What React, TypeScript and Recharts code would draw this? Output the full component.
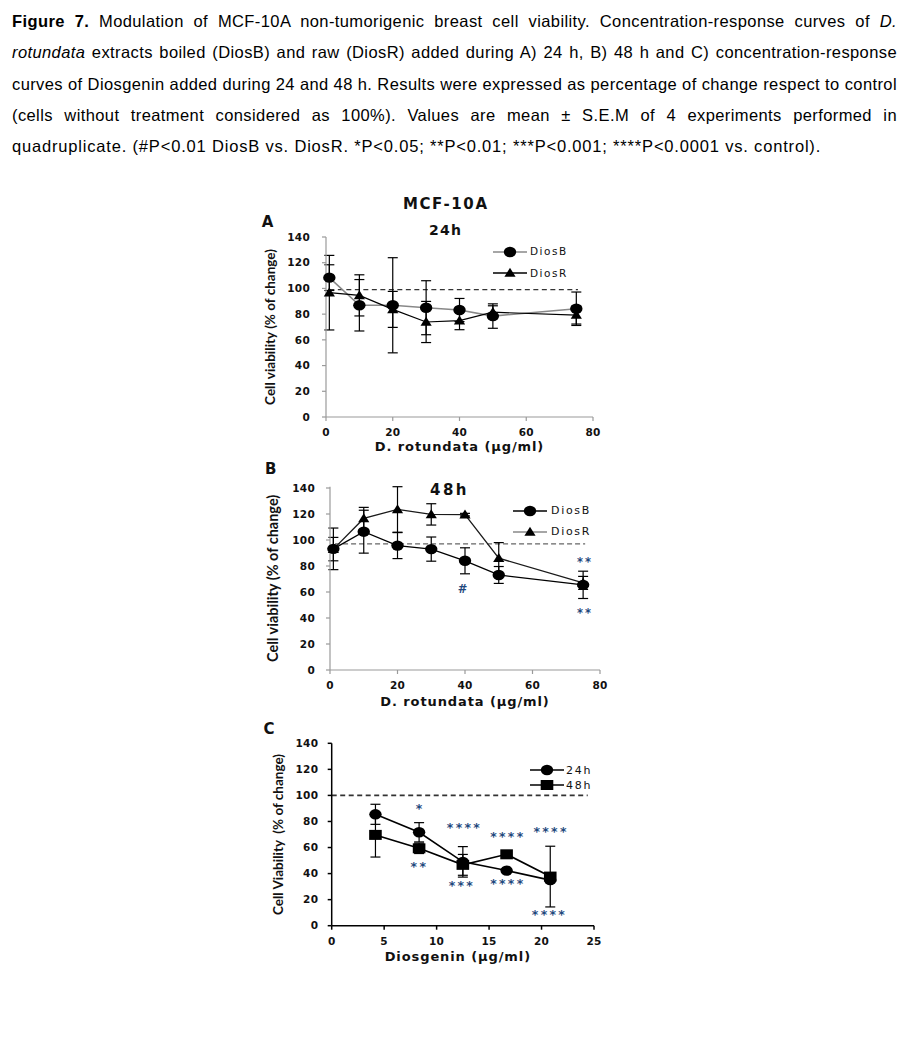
import React from 'react';
import { ComposedChart, Line, Scatter, XAxis, YAxis, ErrorBar, ReferenceLine, Legend } from 'recharts';

// D. rotundata concentrations (µg/ml)
const rotundataDoses = [1, 10, 20, 30, 40, 50, 75];

// A) 24 h, % of control
const diosB24 = [108.4, 86.9, 86.9, 85, 83.2, 78.5, 84.2];
const diosB24Sem = [10, 20, 37, 21, 9, 9.5, 13];
const diosR24 = [96.7, 94.6, 83.7, 73.9, 74.9, 81.5, 79.3];
const diosR24Sem = [29, 16, 14, 16, 7, 5, 7];

// B) 48 h
const diosB48 = [93.2, 106.4, 95.7, 93, 84, 73.1, 65.5];
const diosB48Sem = [16, 16.5, 10, 9.3, 10, 6.5, 10.5];
const diosR48 = [93, 116.6, 123.5, 119.7, 119.5, 86, 67];
const diosR48Sem = [9, 8.5, 17.5, 8.2, 1, 12, 5];

// C) diosgenin (µg/ml)
const diosgeninDoses = [4.17, 8.33, 12.5, 16.67, 20.83];
const diosgenin24 = [85.5, 71.7, 49, 42.3, 35];
const diosgenin24Sem = [7.7, 7.4, 11.7, 1.5, 2];
const diosgenin48 = [69.7, 59.4, 46.7, 54.8, 37.7];
const diosgenin48Sem = [17, 4, 8, 1.5, 23.3];

// dashed control line, as drawn in A, B, C
const controlLevels = [99, 97, 100];

// significance marks
const marksBX = [39.3, 75.3, 75.3];
const marksBY = [62.4, 85.3, 46.4];
const marksBText = ['#', '**', '**'];
const marksCX = [8.33, 12.55, 16.68, 20.8, 8.25, 12.3, 16.68, 20.65];
const marksCY = [92.1, 77.3, 70.4, 74.7, 47.4, 33.3, 34.6, 10.7];
const marksCText = ['*', '****', '****', '****', '**', '***', '****', '****'];

const rotundataTicks = [0, 20, 40, 60, 80];
const diosgeninTicks = [0, 5, 10, 15, 20, 25];
const viabilityTicks = [0, 20, 40, 60, 80, 100, 120, 140];

const FONT = '"DejaVu Sans", "Open Sans", sans-serif';
const LABEL_FONT = 'Lato, "Open Sans", sans-serif';
const INK = '#111';
const MARK_INK = '#1f497d';

const rowsA = rotundataDoses.map((x, i) => ({ x, b: diosB24[i], bSem: diosB24Sem[i], r: diosR24[i], rSem: diosR24Sem[i] }));
const rowsB = rotundataDoses.map((x, i) => ({ x, b: diosB48[i], bSem: diosB48Sem[i], r: diosR48[i], rSem: diosR48Sem[i] }));
const rowsC = diosgeninDoses.map((x, i) => ({
  x, h24: diosgenin24[i], h24Sem: diosgenin24Sem[i], h48: diosgenin48[i], h48Sem: diosgenin48Sem[i],
}));
const marksB = marksBX.map((x, i) => ({ x, y: marksBY[i], text: marksBText[i] }));
const marksC = marksCX.map((x, i) => ({ x, y: marksCY[i], text: marksCText[i] }));

function Marker({ shape, cx, cy }: { shape: string; cx: number; cy: number }) {
  if (shape === 'triangle')
    return <polygon points={`${cx},${cy - 5.2} ${cx + 5.6},${cy + 3.8} ${cx - 5.6},${cy + 3.8}`} fill="#000" />;
  if (shape === 'square') return <rect x={cx - 6.3} y={cy - 5} width={12.6} height={10} fill="#000" />;
  return <ellipse cx={cx} cy={cy} rx={6.2} ry={5.2} fill="#000" />;
}

const dotFor = (shape: string) => (p: any) => (
  <g key={`${shape}-${p.index}`}>
    <Marker shape={shape} cx={p.cx} cy={p.cy} />
  </g>
);

const markShape = (fs: number, ls: number) => (p: any) => {
  const t = p.payload.text;
  const base = p.cy + (t === '#' ? 0.36 : 0.6) * fs;
  return (
    <text x={p.cx + ls / 2} y={base} textAnchor="middle" fontFamily={FONT} fontWeight={700}
      fontSize={fs} letterSpacing={ls} fill={MARK_INK}>
      {t}
    </text>
  );
};

type Series = { key: string; semKey: string; name: string; stroke: string; width: number; shape: string; legendStroke: string };

function LegendRows({ items, gap, fontSize, spacing, textGap }: any) {
  return (
    <div style={{ fontFamily: FONT, fontSize, letterSpacing: spacing, color: INK }}>
      {items.map((it: Series) => (
        <div key={it.name} style={{ display: 'flex', alignItems: 'center', height: gap, whiteSpace: 'nowrap' }}>
          <svg width={34} height={12} style={{ display: 'block', marginRight: textGap }}>
            <line x1={0} y1={6} x2={34} y2={6} stroke={it.legendStroke} strokeWidth={1.5} />
            <Marker shape={it.shape} cx={17} cy={6} />
          </svg>
          <span style={{ lineHeight: 1 }}>{it.name}</span>
        </div>
      ))}
    </div>
  );
}

function ViabilityPanel(props: any) {
  const {
    left, top, width, height, margin, xAxisHeight, xDomain, xTicks, xLabel, xLabelDx = 0,
    yLabel, yLabelSize, yLabelOffset, yTickMargin, xTickMargin, axisColor, axisWidth,
    rows, series, control, marks, markSize, markSpacing, legend,
  } = props;
  const tickStyle = { fill: INK, fontSize: 10.5, fontFamily: FONT, fontWeight: 700, letterSpacing: 0.3 };
  return (
    <div style={{ position: 'absolute', left, top, width, height }}>
      <ComposedChart width={width} height={height} data={rows} margin={margin}>
        <XAxis
          type="number" dataKey="x" domain={xDomain} ticks={xTicks} interval={0} height={xAxisHeight}
          tickSize={4} tickMargin={xTickMargin}
          axisLine={{ stroke: axisColor, strokeWidth: axisWidth }}
          tickLine={{ stroke: axisColor, strokeWidth: axisWidth }}
          tick={tickStyle}
          label={{
            value: xLabel, position: 'insideBottom', offset: 0, dx: xLabelDx,
            style: { fontFamily: FONT, fontWeight: 700, fontSize: 13, letterSpacing: 0.9, fill: INK },
          }}
        />
        <YAxis
          type="number" domain={[0, 140]} ticks={viabilityTicks} interval={0} width={56}
          tickSize={4} tickMargin={yTickMargin}
          axisLine={{ stroke: axisColor, strokeWidth: axisWidth }}
          tickLine={{ stroke: axisColor, strokeWidth: axisWidth }}
          tick={tickStyle}
          label={{
            value: yLabel, angle: -90, position: 'insideLeft', offset: yLabelOffset,
            style: { textAnchor: 'middle', fontFamily: LABEL_FONT, fontWeight: 700, fontSize: yLabelSize, fill: INK },
          }}
        />
        <ReferenceLine
          segment={[{ x: control.x1, y: control.y }, { x: control.x2, y: control.y }]}
          stroke={control.stroke} strokeWidth={control.width} strokeDasharray={control.dash}
        />
        {series.map((s: Series) => (
          <Line
            key={s.key} type="linear" dataKey={s.key} name={s.name} stroke={s.stroke} strokeWidth={s.width}
            dot={dotFor(s.shape)} activeDot={false} isAnimationActive={false}
          >
            <ErrorBar dataKey={s.semKey} width={5} stroke="#000" strokeWidth={1.2} direction="y" />
          </Line>
        ))}
        {marks && (
          <Scatter data={marks} dataKey="y" shape={markShape(markSize, markSpacing)} isAnimationActive={false} />
        )}
        <Legend
          layout="horizontal" verticalAlign="middle" align="center"
          wrapperStyle={{ left: legend.left, top: legend.top, width: 130 }}
          content={() => (
            <LegendRows items={series} gap={legend.gap} fontSize={legend.fontSize}
              spacing={legend.spacing} textGap={legend.textGap} />
          )}
        />
      </ComposedChart>
    </div>
  );
}

const captionLine: React.CSSProperties = {
  height: 31.25, lineHeight: '31.25px', whiteSpace: 'nowrap', textAlign: 'justify', textAlignLast: 'justify',
};

export default function App() {
  return (
    <div style={{ position: 'absolute', left: 0, top: 0, width: 913, height: 1050, background: '#fff', overflow: 'hidden' }}>
      <div style={{
        position: 'absolute', left: 12, top: 6, width: 885, fontFamily: '"Liberation Sans", Arial, sans-serif',
        fontSize: 16.5, letterSpacing: 0.4, color: '#000',
      }}>
        <div style={captionLine}>
          <b>Figure 7.</b> Modulation of MCF-10A non-tumorigenic breast cell viability. Concentration-response curves of <i>D.</i>
        </div>
        <div style={captionLine}>
          <i>rotundata</i> extracts boiled (DiosB) and raw (DiosR) added during A) 24 h, B) 48 h and C) concentration-response
        </div>
        <div style={captionLine}>
          curves of Diosgenin added during 24 and 48 h. Results were expressed as percentage of change respect to control
        </div>
        <div style={captionLine}>
          (cells without treatment considered as 100%). Values are mean ± S.E.M of 4 experiments performed in
        </div>
        <div style={{ ...captionLine, textAlign: 'left', textAlignLast: 'left', letterSpacing: 0.82 }}>
          quadruplicate. (#P&lt;0.01 DiosB vs. DiosR. *P&lt;0.05; **P&lt;0.01; ***P&lt;0.001; ****P&lt;0.0001 vs. control).
        </div>
      </div>

      <svg width={913} height={1050} style={{ position: 'absolute', left: 0, top: 0 }}>
        <g fontFamily={FONT} fontWeight={700} fill={INK} textAnchor="middle">
          <text x={445.8} y={208.8} fontSize={15} letterSpacing={1.6}>MCF-10A</text>
          <text x={267.5} y={227.2} fontSize={15}>A</text>
          <text x={445.6} y={234.8} fontSize={14} letterSpacing={1.2}>24h</text>
          <text x={270.8} y={473.8} fontSize={15}>B</text>
          <text x={449.5} y={494.8} fontSize={15} letterSpacing={2.5}>48h</text>
          <text x={269} y={734.1} fontSize={15}>C</text>
        </g>
      </svg>

      <ViabilityPanel
        left={250} top={225} width={360} height={235}
        margin={{ top: 12, right: 17, bottom: 9, left: 20 }} xAxisHeight={34}
        xDomain={[0, 80]} xTicks={rotundataTicks} xLabel="D. rotundata (µg/ml)"
        yLabel="Cell viability (% of change)" yLabelSize={13.5} yLabelOffset={0}
        yTickMargin={12} xTickMargin={8} axisColor="#9a9a9a" axisWidth={1.2}
        rows={rowsA}
        series={[
          { key: 'b', semKey: 'bSem', name: 'DiosB', stroke: '#888', width: 1.6, shape: 'circle', legendStroke: '#888' },
          { key: 'r', semKey: 'rSem', name: 'DiosR', stroke: '#000', width: 1.2, shape: 'triangle', legendStroke: '#000' },
        ]}
        control={{ x1: 1, x2: 75.5, y: controlLevels[0], stroke: '#000', width: 1, dash: '5 3.5' }}
        legend={{ left: 243, top: 15.9, gap: 21.6, fontSize: 10.5, spacing: 1.5, textGap: 3 }}
      />

      <ViabilityPanel
        left={250} top={475} width={370} height={245}
        margin={{ top: 11.7, right: 20, bottom: 14, left: 24 }} xAxisHeight={36}
        xDomain={[0, 80]} xTicks={rotundataTicks} xLabel="D. rotundata (µg/ml)"
        yLabel="Cell viability (% of change)" yLabelSize={14.5} yLabelOffset={-1.3}
        yTickMargin={11} xTickMargin={7.3} axisColor="#9a9a9a" axisWidth={1.2}
        rows={rowsB}
        series={[
          { key: 'b', semKey: 'bSem', name: 'DiosB', stroke: '#000', width: 1.3, shape: 'circle', legendStroke: '#000' },
          { key: 'r', semKey: 'rSem', name: 'DiosR', stroke: '#1a1a1a', width: 1.3, shape: 'triangle', legendStroke: '#888' },
        ]}
        control={{ x1: 1.5, x2: 75.6, y: controlLevels[1], stroke: '#666', width: 1.2, dash: '5 3' }}
        marks={marksB} markSize={11.5} markSpacing={2}
        legend={{ left: 263, top: 25.65, gap: 20.7, fontSize: 11, spacing: 1.7, textGap: 4 }}
      />

      <ViabilityPanel
        left={250} top={730} width={365} height={245}
        margin={{ top: 13.3, right: 21, bottom: 13.7, left: 25.7 }} xAxisHeight={35.6}
        xDomain={[0, 25]} xTicks={diosgeninTicks} xLabel="Diosgenin (µg/ml)" xLabelDx={-5}
        yLabel={'Cell Viability\u00A0 (% of change)'} yLabelSize={13.5} yLabelOffset={2.6}
        yTickMargin={9.4} xTickMargin={8.3} axisColor="#000" axisWidth={1.5}
        rows={rowsC}
        series={[
          { key: 'h24', semKey: 'h24Sem', name: '24h', stroke: '#000', width: 1.6, shape: 'circle', legendStroke: '#000' },
          { key: 'h48', semKey: 'h48Sem', name: '48h', stroke: '#000', width: 1.6, shape: 'square', legendStroke: '#000' },
        ]}
        control={{ x1: 0, x2: 24.4, y: controlLevels[2], stroke: '#333', width: 1.6, dash: '5 3.5' }}
        marks={marksC} markSize={12.5} markSpacing={2.3}
        legend={{ left: 280, top: 32.5, gap: 15, fontSize: 11, spacing: 1.8, textGap: 2 }}
      />
    </div>
  );
}
